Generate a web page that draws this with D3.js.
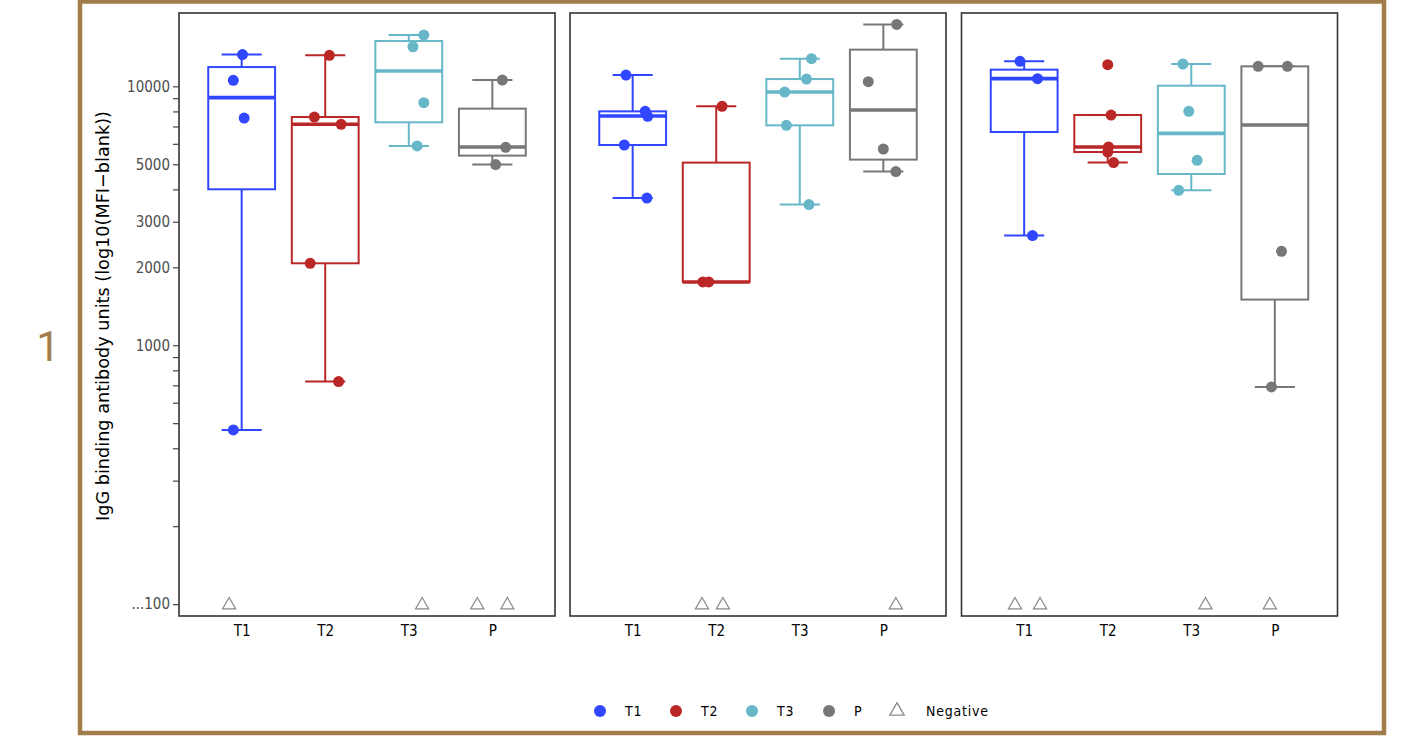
<!DOCTYPE html>
<html lang="en">
<head>
    <meta charset="utf-8">
    <title>IgG binding antibody units</title>
    <style>
        body { margin: 0; background: #fff; }
        svg text { font-family: "Liberation Sans Narrow", "DejaVu Sans Condensed", "Roboto", sans-serif; }
    </style>
</head>
<body>
    <svg id="chart"></svg>
    <script src="https://cdn.jsdelivr.net/npm/d3@7"></script>
    <script>
        // groups shown on the x axis of each panel
        var groups = ["T1", "T2", "T3", "P"];
        var colors = ["#3146ff", "#bb2727", "#67b7c8", "#777777"];

        // individual values, per panel, per group
        var pointValues = [
            [[13260, 10550, 7544, 471], [13175, 7612, 7134, 2073, 724], [15780, 14220, 8650, 5884], [10575, 5816, 4985]],
            [[11055, 8006, 7660, 5935, 3704], [8372, 1756, 1756], [12790, 10670, 9506, 7070, 3493], [17350, 10425, 5728, 4686]],
            [[12490, 10710, 2652], [12130, 7749, 5832, 5576, 5075], [12200, 8006, 5180, 3967], [11947, 11947, 2306, 690]]
        ];
        // horizontal jitter of each point (fraction of a category step)
        var pointJitter = [
            [[0.01, -0.10, 0.03, -0.10], [0.05, -0.13, 0.19, -0.18, 0.16], [0.18, 0.05, 0.18, 0.10], [0.12, 0.16, 0.04]],
            [[-0.08, 0.15, 0.18, -0.10, 0.17], [0.07, -0.16, -0.09], [0.14, 0.08, -0.18, -0.16, 0.11], [0.16, -0.18, 0.0, 0.15]],
            [[-0.05, 0.16, 0.10], [0.0, 0.04, 0.01, 0.0, 0.07], [-0.10, -0.03, 0.07, -0.15], [-0.20, 0.15, 0.08, -0.04]]
        ];

        // box statistics per panel, per group
        var boxMin = [[471, 724, 5884, 4985], [3704, 1756, 3493, 4686], [2652, 5075, 3967, 690]];
        var boxQ1 = [[4003, 2073, 7262, 5401], [5935, 1756, 7070, 5212], [6662, 5576, 4586, 1501]];
        var boxMedian = [[9045, 7134, 11460, 5832], [7680, 1756, 9506, 8100], [10710, 5832, 6584, 7090]];
        var boxQ3 = [[11870, 7612, 14960, 8202], [8006, 5075, 10670, 13860], [11600, 7749, 10060, 11947]];
        var boxMax = [[13260, 13175, 15780, 10575], [11055, 8372, 12790, 17350], [12490, 7749, 12200, 11947]];

        // negative samples (plotted at the floor value), jitter per triangle
        var negativeValue = 100;
        var negativeJitter = [
            [[-0.15], [], [0.16], [-0.18, 0.18]],
            [[], [-0.17, 0.08], [], [0.15]],
            [[-0.11, 0.19], [], [0.17], [-0.06]]
        ];

        var yTicks = [100, 200, 300, 400, 500, 600, 700, 800, 900,
                      1000, 2000, 3000, 4000, 5000, 6000, 7000, 8000, 9000, 10000];
        var yTickLabels = { 100: "...100", 1000: "1000", 2000: "2000", 3000: "3000", 5000: "5000", 10000: "10000" };

        var legendKeys = ["T1", "T2", "T3", "P", "Negative"];

        var W = 1403, H = 753;
        var panelLeft = [179, 570, 961.5];
        var panelW = 376;
        var plotTop = 13, plotBottom = 616;

        var svg = d3.select("#chart").attr("width", W).attr("height", H);

        // outer frame and figure number
        svg.append("rect")
            .attr("x", 80).attr("y", 1.5)
            .attr("width", 1304).attr("height", 731.5)
            .attr("fill", "none")
            .attr("stroke", "#a27d4c")
            .attr("stroke-width", 4.5);
        svg.append("text")
            .attr("x", 48).attr("y", 361)
            .attr("text-anchor", "middle")
            .attr("font-size", "42px")
            .attr("fill", "#a27d4c")
            .style("font-family", "Roboto, sans-serif")
            .text("1");

        var y = d3.scaleLog().domain([90, 19200]).range([plotBottom, plotTop]);

        var x = d3.scalePoint().domain(groups).range([0, panelW]).padding(0.75);
        var step = x.step();
        var boxW = step * 0.8;
        var capW = step * 0.48;

        // y axis on the first panel
        var yAxis = d3.axisLeft(y)
            .tickValues(yTicks)
            .tickSize(6)
            .tickPadding(3)
            .tickFormat(function(d) { return yTickLabels[d] || ""; });
        var gy = svg.append("g")
            .attr("transform", "translate(" + panelLeft[0] + ",0)")
            .call(yAxis);
        gy.select(".domain").remove();
        gy.selectAll(".tick line").attr("stroke", "#333").attr("stroke-width", 1.1);
        gy.selectAll(".tick text")
            .attr("fill", "#4d4d4d")
            .attr("font-size", "15px");

        svg.append("text")
            .attr("transform", "translate(109,316) rotate(-90)")
            .attr("text-anchor", "middle")
            .attr("font-size", "18.5px")
            .attr("textLength", 410)
            .attr("lengthAdjust", "spacingAndGlyphs")
            .attr("fill", "#000")
            .text("IgG binding antibody units (log10(MFI\u2212blank))");

        panelLeft.forEach(function(left, p) {
            var g = svg.append("g").attr("transform", "translate(" + left + ",0)");

            g.append("rect")
                .attr("x", 0).attr("y", plotTop)
                .attr("width", panelW).attr("height", plotBottom - plotTop)
                .attr("fill", "#fff");

            var stats = groups.map(function(name, i) {
                return {
                    name: name, color: colors[i],
                    min: boxMin[p][i], q1: boxQ1[p][i], med: boxMedian[p][i],
                    q3: boxQ3[p][i], max: boxMax[p][i]
                };
            });

            var box = g.selectAll("g.box")
                .data(stats)
                .enter()
                .append("g")
                .attr("class", "box")
                .attr("transform", function(d) { return "translate(" + x(d.name) + ",0)"; })
                .attr("stroke", function(d) { return d.color; })
                .attr("fill", "none");

            // whiskers and caps
            box.append("line")
                .attr("x1", 0).attr("x2", 0)
                .attr("y1", function(d) { return y(d.max); })
                .attr("y2", function(d) { return y(d.min); })
                .attr("stroke-width", 2);
            box.append("line")
                .attr("x1", -capW / 2).attr("x2", capW / 2)
                .attr("y1", function(d) { return y(d.max); })
                .attr("y2", function(d) { return y(d.max); })
                .attr("stroke-width", 2);
            box.append("line")
                .attr("x1", -capW / 2).attr("x2", capW / 2)
                .attr("y1", function(d) { return y(d.min); })
                .attr("y2", function(d) { return y(d.min); })
                .attr("stroke-width", 2);

            box.append("rect")
                .attr("x", -boxW / 2)
                .attr("width", boxW)
                .attr("y", function(d) { return y(d.q3); })
                .attr("height", function(d) { return y(d.q1) - y(d.q3); })
                .attr("fill", "#fff")
                .attr("stroke-width", 2);
            box.append("line")
                .attr("x1", -boxW / 2).attr("x2", boxW / 2)
                .attr("y1", function(d) { return y(d.med); })
                .attr("y2", function(d) { return y(d.med); })
                .attr("stroke-width", 3.6);

            // points
            var pts = [];
            groups.forEach(function(name, i) {
                pointValues[p][i].forEach(function(v, k) {
                    pts.push({ name: name, color: colors[i], v: v, j: pointJitter[p][i][k] });
                });
            });
            g.selectAll("circle.pt")
                .data(pts)
                .enter()
                .append("circle")
                .attr("class", "pt")
                .attr("cx", function(d) { return x(d.name) + d.j * step; })
                .attr("cy", function(d) { return y(d.v); })
                .attr("r", 5.5)
                .attr("fill", function(d) { return d.color; });

            // negatives
            var negs = [];
            groups.forEach(function(name, i) {
                negativeJitter[p][i].forEach(function(j) {
                    negs.push({ name: name, j: j });
                });
            });
            var tri = d3.symbol().type(d3.symbolTriangle).size(75);
            g.selectAll("path.neg")
                .data(negs)
                .enter()
                .append("path")
                .attr("class", "neg")
                .attr("d", tri)
                .attr("transform", function(d) {
                    return "translate(" + (x(d.name) + d.j * step) + "," + (y(negativeValue) + 1) + ")";
                })
                .attr("fill", "none")
                .attr("stroke", "#8a8a8a")
                .attr("stroke-width", 1.2);

            // panel border
            g.append("rect")
                .attr("x", 0).attr("y", plotTop)
                .attr("width", panelW).attr("height", plotBottom - plotTop)
                .attr("fill", "none")
                .attr("stroke", "#333")
                .attr("stroke-width", 1.6);

            // x axis labels
            var xAxis = d3.axisBottom(x).tickSize(0).tickPadding(9);
            var gx = g.append("g")
                .attr("transform", "translate(0," + plotBottom + ")")
                .call(xAxis);
            gx.select(".domain").remove();
            gx.selectAll(".tick text")
                .attr("fill", "#000")
                .attr("font-size", "15px");
        });

        // legend
        var legendX = [600, 676, 752, 829, 897];
        var legend = svg.append("g").attr("transform", "translate(0,711)");
        var item = legend.selectAll("g")
            .data(legendKeys)
            .enter()
            .append("g")
            .attr("transform", function(d, i) { return "translate(" + legendX[i] + ",0)"; });
        item.filter(function(d, i) { return i < 4; })
            .append("circle")
            .attr("r", 6)
            .attr("fill", function(d, i) { return colors[i]; });
        item.filter(function(d, i) { return i === 4; })
            .append("path")
            .attr("d", d3.symbol().type(d3.symbolTriangle).size(90))
            .attr("fill", "none")
            .attr("stroke", "#8a8a8a")
            .attr("stroke-width", 1.3);
        item.append("text")
            .attr("x", function(d, i) { return i === 4 ? 29 : 25; })
            .attr("y", 5)
            .attr("font-size", "14px")
            .attr("letter-spacing", "0.8px")
            .attr("fill", "#000")
            .text(function(d) { return d; });
    </script>
</body>
</html>
